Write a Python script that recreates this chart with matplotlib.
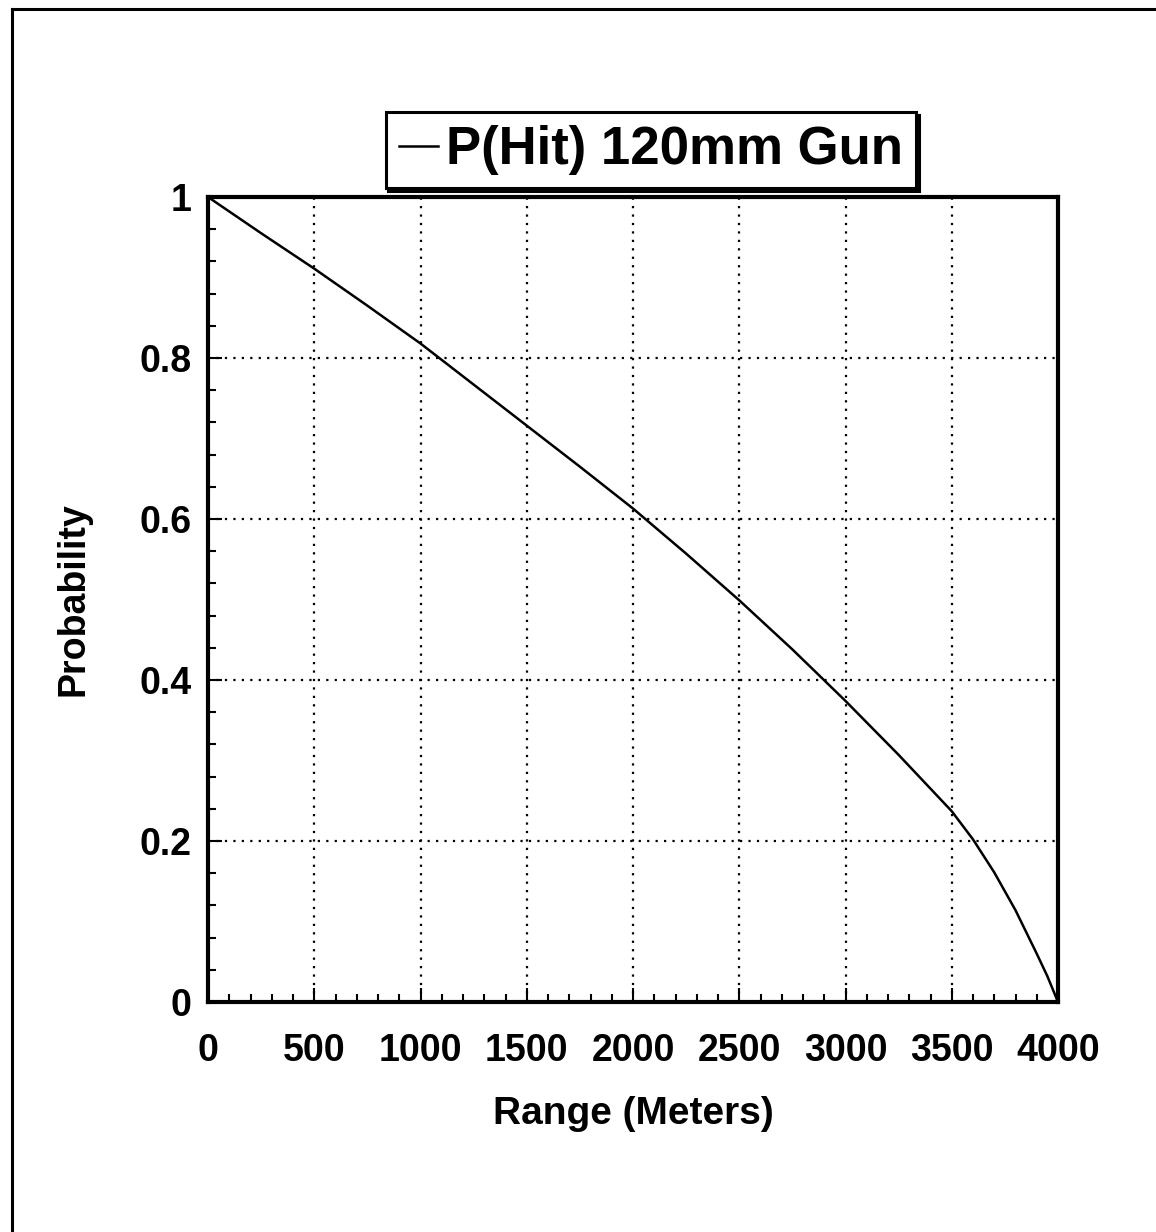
import matplotlib
matplotlib.use("Agg")
import matplotlib.pyplot as plt
from matplotlib.lines import Line2D
from matplotlib.ticker import MultipleLocator, FixedLocator, FixedFormatter

plt.rcParams['font.family'] = ['Liberation Sans', 'DejaVu Sans']

# range in meters and probability of hit
range_m = [0, 250, 500, 750, 1000, 1250, 1500, 1750, 2000, 2250, 2500,
           2750, 3000, 3250, 3500, 3600, 3700, 3800, 3900, 3950, 4000]
p_hit = [1.0, 0.955, 0.911, 0.865, 0.818, 0.767, 0.716, 0.665, 0.613, 0.557,
         0.499, 0.438, 0.374, 0.307, 0.237, 0.202, 0.161, 0.114, 0.060, 0.032, 0.0]

x_ticks = [0, 500, 1000, 1500, 2000, 2500, 3000, 3500, 4000]
y_ticks = [0, 0.2, 0.4, 0.6, 0.8, 1.0]
y_labels = ["0", "0.2", "0.4", "0.6", "0.8", "1"]
series_name = "P(Hit) 120mm Gun"

W, H = 1156, 1232
fig = plt.figure(figsize=(W / 100, H / 100), dpi=100)
ax = fig.add_axes([208 / W, (H - 1002) / H, 850 / W, 805 / H])

ax.plot(range_m, p_hit, color="black", lw=1.8, label=series_name)

ax.set_xlim(0, 4000)
ax.set_ylim(0, 1)
ax.xaxis.set_major_locator(FixedLocator(x_ticks))
ax.yaxis.set_major_locator(FixedLocator(y_ticks))
ax.yaxis.set_major_formatter(FixedFormatter(y_labels))
ax.xaxis.set_minor_locator(MultipleLocator(100))
ax.yaxis.set_minor_locator(MultipleLocator(0.04))

ax.grid(True, which="major", color="black", lw=1.6, linestyle=(0, (1, 2.8)))
ax.set_axisbelow(True)

for s in ax.spines.values():
    s.set_linewidth(3)

ax.tick_params(axis="both", which="both", direction="in", top=False, right=False,
               width=1.5, color="black")
ax.tick_params(axis="x", which="major", length=10, pad=22)
ax.tick_params(axis="x", which="minor", length=6)
ax.tick_params(axis="y", which="major", length=10, pad=12)
ax.tick_params(axis="y", which="minor", length=6)
for lab in ax.get_xticklabels() + ax.get_yticklabels():
    lab.set_fontsize(27)
    lab.set_fontweight("bold")

ax.set_xlabel("Range (Meters)", fontsize=28, fontweight="bold", labelpad=20)
ax.set_ylabel("Probability", fontsize=27, fontweight="bold", labelpad=34)

leg = ax.legend(loc="center", bbox_to_anchor=(651 / W, 1 - 150 / H),
                bbox_transform=fig.transFigure, frameon=True,
                prop={"size": 38, "weight": "bold"},
                fancybox=False, edgecolor="black", framealpha=1,
                handlelength=0.75, handletextpad=0.15, borderpad=0.25,
                borderaxespad=0, shadow={"color": "black", "alpha": 1})
leg.get_frame().set_linewidth(2.2)
for h in leg.get_lines():
    h.set_linewidth(1.8)

# outer page frame (left and top edges)
fig.add_artist(Line2D([12 / W, 12 / W], [0, 1 - 9 / H], color="black", lw=2.2))
fig.add_artist(Line2D([12 / W, 1], [1 - 9 / H, 1 - 9 / H], color="black", lw=2.2))

fig.savefig("out.png", dpi=100)
